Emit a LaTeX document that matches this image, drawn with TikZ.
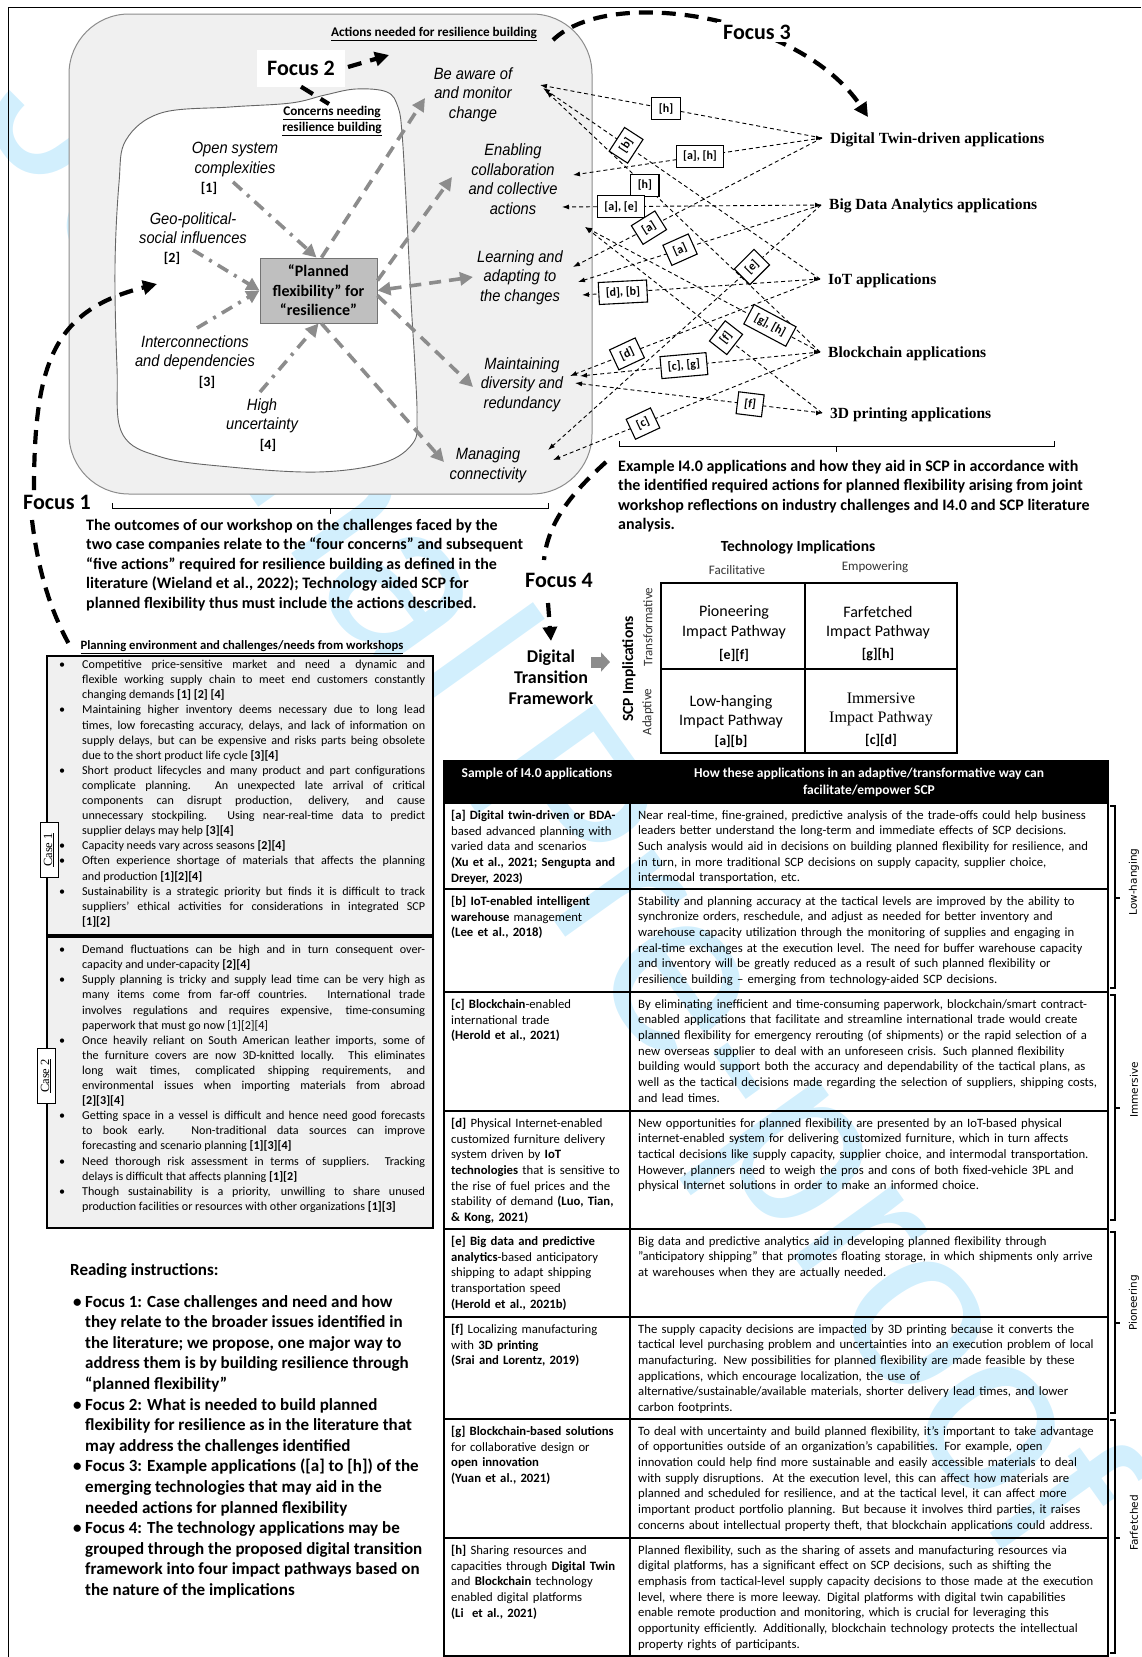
\documentclass[tikz,border=0pt]{standalone}
\usepackage{fontspec}
\setmainfont{Carlito}
\newfontfamily\lib{Liberation Sans}
\newfontfamily\libn{Liberation Sans}[FakeStretch=0.9]
\newfontfamily\tms{Liberation Serif}
\newfontfamily\dvs{DejaVu Sans}
\usetikzlibrary{arrows.meta,calc}
\newcommand{\fsz}[2]{\fontsize{#1}{#2}\selectfont}
\newlength\cw \setlength\cw{343pt}
\newcommand{\cBJ}[1]{\makebox[25pt][l]{\hspace{2pt}•}\makebox[\cw][s]{#1}}
\newcommand{\cBL}[1]{\makebox[25pt][l]{\hspace{2pt}•}\makebox[\cw][l]{#1}}
\newcommand{\cCJ}[1]{\makebox[25pt]{}\makebox[\cw][s]{#1}}
\newcommand{\cCL}[1]{\makebox[25pt]{}\makebox[\cw][l]{#1}}
\newcommand{\rB}{\makebox[12pt][l]{•}}
\newcommand{\rC}{\makebox[12pt]{}}
\definecolor{wmblue}{RGB}{210,239,253}
\definecolor{boxgray}{RGB}{240,240,240}
\definecolor{pfgray}{RGB}{191,191,191}
\definecolor{arrgray}{RGB}{140,140,140}
\tikzset{
  fdash/.style={line width=4.2pt, dash pattern=on 14pt off 9pt},
  ftip/.style={-{Triangle[length=14pt,width=14pt]}},
  gdash/.style={arrgray, line width=3.6pt, dash pattern=on 12pt off 8pt},
  gdot/.style={arrgray, line width=3.6pt, dash pattern=on 12pt off 7pt on 3pt off 7pt},
  gtip/.style={-{Triangle[length=13pt,width=13pt]}},
  gtips/.style={{Triangle[length=13pt,width=13pt]}-{Triangle[length=13pt,width=13pt]}},
  conn/.style={line width=0.9pt, dash pattern=on 4pt off 3pt, -{Latex[length=7pt,width=5pt]}},
  lbl/.style={draw, solid, line width=1.1pt, fill=white, font=\bfseries\fsz{12}{13}, inner xsep=7pt, inner ysep=2pt, minimum height=22pt},
  act/.style={font=\libn\itshape\fsz{16.3}{19.5}, align=center, inner sep=0pt},
  numl/.style={font=\bfseries\fsz{14}{16}, inner sep=0pt},
  tech/.style={font=\tms\bfseries\fsz{15.5}{17}, anchor=west, inner sep=0pt},
  focuslbl/.style={font=\bfseries\fsz{22}{24}, inner sep=3pt},
  ulhead/.style={font=\bfseries\fsz{13.2}{15.5}, align=center, inner sep=0pt},
  cellL/.style={anchor=north west, inner sep=0pt, align=left, text width=200pt, font=\fsz{12.7}{15.7}},
  cellR/.style={anchor=north west, inner sep=0pt, align=left, text width=480pt, font=\fsz{12.7}{15.7}},
  cellM/.style={font=\fsz{16}{19.5}, align=center, inner sep=0pt},
  brk/.style={line width=1.2pt},
  brklbl/.style={rotate=90, font=\dvs\fsz{10.5}{12}, inner sep=0pt},
  casebox/.style={draw, line width=1.2pt, fill=boxgray},
  caselbl/.style={draw, fill=white, line width=0.8pt, rotate=90, font=\tms\fsz{12.5}{14}, inner sep=2pt, minimum width=55pt, minimum height=18pt},
}
\begin{document}
\begin{tikzpicture}[x=1pt,y=-1pt]
\useasboundingbox (0,0) rectangle (1141,1657);
% watermark
\node[rotate=-54.5, text=wmblue, font=\lib\fsz{232}{232}, inner sep=0pt] (WM) at (545,805) {Journal Pre-proof};
% frame
\draw[line width=0.8pt] (8,1657) -- (8,7) -- (1141,7);

% ===== Focus 1/2 area =====
\draw[black!45, line width=1pt, fill=boxgray, rounded corners=60pt] (69,14) rectangle (592,494);
\draw[black!60, line width=0.9pt, fill=white] plot[smooth cycle, tension=0.6] coordinates {(126,140) (161,113) (230,107) (291,103) (325,95) (356,89) (387,92) (398,107) (402,133) (406,200) (411,300) (415,367) (417,417) (413,443) (383,463) (318,472) (230,467) (161,457) (122,433) (117,367) (115,267) (119,183)};

\node[ulhead] (ANH) at (434,34) {\underline{Actions needed for resilience building}};
\node[ulhead, align=center] (CNR) at (332,121) {\underline{Concerns needing}\\\underline{resilience building}};

\node[focuslbl, fill=white, minimum width=88pt, minimum height=37pt] (F2) at (301,68) {Focus 2};
\draw[fdash] (F2.south) -- (329,104);
\draw[fdash, ftip] (348,67) -- (389,55);

% concerns
\node[act] (C1) at (235,159.5) {Open system\\complexities};
\node[numl] (N1) at (209,188) {[1]};
\node[act] (C2) at (193,228) {Geo-political-\\social influences};
\node[numl] (N2) at (172,258) {[2]};
\node[act] (C3) at (195,353) {Interconnections\\and dependencies};
\node[numl] (N3) at (207,382) {[3]};
\node[act] (C4) at (262,416) {High\\uncertainty};
\node[numl] (N4) at (268,445) {[4]};

% center box
\node[draw=black!55, fill=pfgray, line width=1pt, minimum width=117pt, minimum height=65pt, font=\bfseries\fsz{16}{19.5}, align=center, inner sep=0pt] (PF) at (318.5,290.5) {“Planned\\flexibility” for\\“resilience”};

% actions
\node[act] (A1) at (473,94.5) {Be aware of\\and monitor\\change};
\node[act] (A2) at (513,179) {Enabling\\collaboration\\and collective\\actions};
\node[act] (A3) at (520,277.5) {Learning and\\adapting to\\the changes};
\node[act] (A4) at (522,384.5) {Maintaining\\diversity and\\redundancy};
\node[act] (A5) at (488,465.5) {Managing\\connectivity};

% concern arrows (dash-dot)
\coordinate (s1) at (233,182);
\coordinate (s2) at (193,250);
\coordinate (s3) at (197,328);
\coordinate (s4) at (260,392);
\draw[gdot, gtip] (s1) -- ([xshift=-2pt]PF.north);
\draw[gdot, gtip] (s2) -- (PF.west);
\draw[gdot, gtip] (s3) -- (PF.west);
\draw[gdot, gtip] (s4) -- (PF.south);

% action arrows (dashed)
\coordinate (ta) at (425,98);
\coordinate (tb) at (452,177);
\coordinate (tc) at (473,277);
\coordinate (td) at (473,387);
\coordinate (te) at (444,462);
\draw[gdash, gtip] ([xshift=3pt]PF.north) -- (ta);
\draw[gdash, gtip] ([yshift=10pt]PF.east) -- (tb);
\draw[gdash, gtips] (PF.east) -- (tc);
\draw[gdash, gtip] ([yshift=-5pt]PF.east) -- (td);
\draw[gdash, gtip] ([xshift=3pt]PF.south) -- (te);

% Focus 1
\node[focuslbl] (F1) at (57,502) {Focus 1};
\draw[fdash, ftip] (34,490) .. controls (34,360) and (55,310) .. (157,284);
\draw[fdash] (32,520) .. controls (38,570) and (50,610) .. (70,646);
\draw[line width=1pt] (112,503) -- (112,508) -- (548,508) -- (548,503);
\draw[line width=1pt] (330,508) -- (330,514);
\node[anchor=north west, inner sep=0pt, align=left, font=\bfseries\fsz{16}{19.5}] (F1T) at (86,519) {The outcomes of our workshop on the challenges faced by the\\two case companies relate to the “four concerns” and subsequent\\“five actions” required for resilience building as defined in the\\literature (Wieland et al., 2022); Technology aided SCP for\\planned flexibility thus must include the actions described.};

% Focus 3
\draw[fdash, ftip] (553,40) .. controls (610,-15) and (800,15) .. (868,117);
\node[focuslbl, fill=white, inner xsep=6pt] (F3) at (757,32) {Focus 3};

% technology apps
\coordinate (cDT) at (822,138);
\coordinate (cBD) at (821,205);
\coordinate (cIO) at (820,279);
\coordinate (cBC) at (820,352);
\coordinate (cTP) at (822,413);
\node[tech] (DT) at (830,140) {Digital Twin-driven applications};
\node[tech] (BD) at (829,206) {Big Data Analytics applications};
\node[tech] (IO) at (828,281) {IoT applications};
\node[tech] (BCn) at (828,354) {Blockchain applications};
\node[tech] (TP) at (830,415) {3D printing applications};
\foreach \c in {cDT,cBD,cIO,cBC,cTP}{
  \draw[line width=0.9pt, -{Latex[length=6pt,width=5pt]}] ([xshift=-6pt]\c) -- (\c);
}

\coordinate (aw1) at (540,85);
\coordinate (aw2) at (543,88);
\coordinate (aw3) at (546,91);
\coordinate (en1) at (573,175);
\coordinate (en2) at (562,207);
\coordinate (en3) at (585,227);
\coordinate (le1) at (573,267);
\coordinate (le2) at (578,282);
\coordinate (le3) at (582,295);
\coordinate (ma1) at (570,376);
\coordinate (ma2) at (580,376);
\coordinate (ma3) at (575,383);
\coordinate (mc1) at (548,450);
\coordinate (mc2) at (553,460);

\draw[conn] (cDT) -- node[lbl,pos=0.553]{[h]} (aw1);
\draw[conn] (cIO) -- node[lbl,pos=0.70,rotate=57]{[b]} (aw2);
\draw[conn] (cBC) -- node[lbl,pos=0.639]{[h]} (aw3);
\draw[conn] (cDT) -- node[lbl,pos=0.49]{[a], [h]} (en1);
\draw[conn] (cBD) -- node[lbl,pos=0.772]{[a], [e]} (en2);
\draw[conn] (cBC) -- node[lbl,pos=0.213,rotate=-28]{[g], [h]} (en3);
\draw[conn] (cTP) -- node[lbl,pos=0.405,rotate=52]{[f]} (en3);
\draw[conn] (cDT) -- node[lbl,pos=0.695,rotate=32]{[a]} (le1);
\draw[conn] (cBD) -- node[lbl,pos=0.58,rotate=24]{[a]} (le2);
\draw[conn] (cIO) -- node[lbl,pos=0.828,rotate=3]{[d], [b]} (le3);
\draw[conn] (cBD) -- node[lbl,pos=0.253,rotate=45]{[e]} (mc1);
\draw[conn] (cIO) -- node[lbl,pos=0.772,rotate=25]{[d]} (ma1);
\draw[conn] (cBC) -- node[lbl,pos=0.567,rotate=5]{[c], [g]} (ma2);
\draw[conn] (cTP) -- node[lbl,pos=0.291,rotate=-7]{[f]} (ma3);
\draw[conn] (cBC) -- node[lbl,pos=0.663,rotate=25]{[c]} (mc2);

% Example bracket + text
\draw[line width=1pt] (619,441) -- (619,446) -- (1054,446) -- (1054,441);
\draw[line width=1pt] (836,446) -- (836,452);
\node[anchor=north west, inner sep=0pt, align=left, font=\bfseries\fsz{16}{19.5}] (EXT) at (618,460) {Example I4.0 applications and how they aid in SCP in accordance with\\the identified required actions for planned flexibility arising from joint\\workshop reflections on industry challenges and I4.0 and SCP literature\\analysis.};

% Focus 4
\draw[fdash] (606,462) .. controls (575,490) and (548,520) .. (544,560);
\node[focuslbl] (F4) at (559,580) {Focus 4};
\draw[fdash, ftip] (548,603) -- (551,641);
\node[font=\bfseries\fsz{18}{21}, align=center, inner sep=0pt] (DTF) at (551,677) {Digital\\Transition\\Framework};
\draw[arrgray, line width=11pt, -{Triangle[length=9pt,width=19pt]}] (591,662) -- (610,662);

% matrix
\node[font=\bfseries\fsz{15.5}{17}, inner sep=0pt] (TI) at (798,547) {Technology Implications};
\node[font=\fsz{13}{15}, text=black!80, inner sep=0pt] (FAC) at (737,570) {Facilitative};
\node[font=\fsz{13}{15}, text=black!80, inner sep=0pt] (EMP) at (875,567) {Empowering};
\node[rotate=90, font=\bfseries\fsz{15.5}{17}, inner sep=0pt] (SCPI) at (629,669) {SCP Implications};
\node[rotate=90, font=\fsz{13}{15}, text=black!80, inner sep=0pt] (TRF) at (648,627) {Transformative};
\node[rotate=90, font=\fsz{13}{15}, text=black!80, inner sep=0pt] (ADP) at (648,712) {Adaptive};
\draw[line width=1.2pt] (661,583) rectangle (957,753);
\draw[line width=1.2pt] (805,583) -- (805,753);
\draw[line width=1.2pt] (661,669) -- (957,669);
\node[cellM] (M1) at (734,622.5) {Pioneering\\Impact Pathway};
\node[font=\bfseries\fsz{14}{16}, inner sep=0pt] (M1r) at (734,655) {[e][f]};
\node[cellM] (M2) at (878,622.5) {Farfetched\\Impact Pathway};
\node[font=\bfseries\fsz{14}{16}, inner sep=0pt] (M2r) at (878,655) {[g][h]};
\node[cellM] (M3) at (731,711.5) {Low-hanging\\Impact Pathway};
\node[font=\bfseries\fsz{14}{16}, inner sep=0pt] (M3r) at (731,741) {[a][b]};
\node[cellM, font=\tms\fsz{16}{19.5}] (M4) at (881,709.5) {Immersive\\Impact Pathway};
\node[font=\bfseries\fsz{14}{16}, inner sep=0pt] (M4r) at (881,740) {[c][d]};

% ===== Left: planning environment =====
\node[font=\bfseries\fsz{12.7}{14}, inner sep=0pt] (PEH) at (242,647) {\underline{Planning environment and challenges/needs from workshops}};
\draw[casebox] (47,656) rectangle (433,935);
\node[anchor=north west, inner sep=0pt, align=left, font=\fsz{12.1}{15.1}] (CS1) at (57,660) {%
\cBJ{Competitive price-sensitive market and need a dynamic and}\\
\cCJ{flexible working supply chain to meet end customers constantly}\\
\cCL{changing demands \textbf{[1] [2] [4]}}\\
\cBJ{Maintaining higher inventory deems necessary due to long lead}\\
\cCJ{times, low forecasting accuracy, delays, and lack of information on}\\
\cCJ{supply delays, but can be expensive and risks parts being obsolete}\\
\cCL{due to the short product life cycle \textbf{[3][4]}}\\
\cBJ{Short product lifecycles and many product and part configurations}\\
\cCJ{complicate planning. An unexpected late arrival of critical}\\
\cCJ{components can disrupt production, delivery, and cause}\\
\cCJ{unnecessary stockpiling. Using near-real-time data to predict}\\
\cCL{supplier delays may help \textbf{[3][4]}}\\
\cBL{Capacity needs vary across seasons \textbf{[2][4]}}\\
\cBJ{Often experience shortage of materials that affects the planning}\\
\cCL{and production \textbf{[1][2][4]}}\\
\cBJ{Sustainability is a strategic priority but finds it is difficult to track}\\
\cCJ{suppliers’ ethical activities for considerations in integrated SCP}\\
\cCL{\textbf{[1][2]}}};
\node[caselbl] (K1) at (49,850) {\underline{Case 1}};

\draw[casebox] (47,937) rectangle (433,1228);
\node[anchor=north west, inner sep=0pt, align=left, font=\fsz{12.1}{15.1}] (CS2) at (57,945) {%
\cBJ{Demand fluctuations can be high and in turn consequent over-}\\
\cCL{capacity and under-capacity \textbf{[2][4]}}\\
\cBJ{Supply planning is tricky and supply lead time can be very high as}\\
\cCJ{many items come from far-off countries. International trade}\\
\cCJ{involves regulations and requires expensive, time-consuming}\\
\cCL{paperwork that must go now [1][2][4]}\\
\cBJ{Once heavily reliant on South American leather imports, some of}\\
\cCJ{the furniture covers are now 3D-knitted locally. This eliminates}\\
\cCJ{long wait times, complicated shipping requirements, and}\\
\cCJ{environmental issues when importing materials from abroad}\\
\cCL{\textbf{[2][3][4]}}\\
\cBJ{Getting space in a vessel is difficult and hence need good forecasts}\\
\cCJ{to book early. Non-traditional data sources can improve}\\
\cCL{forecasting and scenario planning \textbf{[1][3][4]}}\\
\cBJ{Need thorough risk assessment in terms of suppliers. Tracking}\\
\cCL{delays is difficult that affects planning \textbf{[1][2]}}\\
\cBJ{Though sustainability is a priority, unwilling to share unused}\\
\cCL{production facilities or resources with other organizations \textbf{[1][3]}}};
\node[caselbl] (K2) at (46,1076) {\underline{Case 2}};

% reading instructions
\node[anchor=west, inner sep=0pt, font=\bfseries\fsz{17}{20}] (RI) at (70,1271) {Reading instructions:};
\node[anchor=north west, inner sep=0pt, align=left, font=\bfseries\fsz{17}{20.6}] (RIL) at (73,1295) {%
\rB Focus 1: Case challenges and need and how\\
\rC they relate to the broader issues identified in\\
\rC the literature; we propose, one major way to\\
\rC address them is by building resilience through\\
\rC “planned flexibility”\\
\rB Focus 2: What is needed to build planned\\
\rC flexibility for resilience as in the literature that\\
\rC may address the challenges identified\\
\rB Focus 3: Example applications ([a] to [h]) of the\\
\rC emerging technologies that may aid in the\\
\rC needed actions for planned flexibility\\
\rB Focus 4: The technology applications may be\\
\rC grouped through the proposed digital transition\\
\rC framework into four impact pathways based on\\
\rC the nature of the implications};

% ===== Table =====
\fill[black] (444,761) rectangle (1108,803);
\node[text=white, font=\bfseries\fsz{13.5}{17}, inner sep=0pt] (H1) at (537,774) {Sample of I4.0 applications};
\node[text=white, font=\bfseries\fsz{13.5}{17}, align=center, inner sep=0pt] (H2) at (869,782) {How these applications in an adaptive/transformative way can\\facilitate/empower SCP};
\draw[line width=1.2pt] (444,761) rectangle (1108,1656);
\draw[line width=1.2pt] (630,803) -- (630,1656);
\foreach \yy in {803,889,992,1111,1229,1317,1419,1538}{\draw[line width=1.2pt] (444,\yy) -- (1108,\yy);}

\node[cellL] (La) at (451,810) {\textbf{[a] Digital twin-driven or BDA-}\\based advanced planning with\\varied data and scenarios\\\textbf{(Xu et al., 2021; Sengupta and}\\\textbf{Dreyer, 2023)}};
\node[cellR] (Ra) at (638,810) {Near real-time, fine-grained, predictive analysis of the trade-offs could help business\\leaders better understand the long-term and immediate effects of SCP decisions.\\Such analysis would aid in decisions on building planned flexibility for resilience, and\\in turn, in more traditional SCP decisions on supply capacity, supplier choice,\\intermodal transportation, etc.};
\node[cellL] (Lb) at (451,896) {\textbf{[b] IoT-enabled intelligent}\\\textbf{warehouse} management\\\textbf{(Lee et al., 2018)}};
\node[cellR] (Rb) at (638,896) {Stability and planning accuracy at the tactical levels are improved by the ability to\\synchronize orders, reschedule, and adjust as needed for better inventory and\\warehouse capacity utilization through the monitoring of supplies and engaging in\\real-time exchanges at the execution level. The need for buffer warehouse capacity\\and inventory will be greatly reduced as a result of such planned flexibility or\\resilience building – emerging from technology-aided SCP decisions.};
\node[cellL] (Lc) at (451,999) {\textbf{[c] Blockchain}-enabled\\international trade\\\textbf{(Herold et al., 2021)}};
\node[cellR] (Rc) at (638,999) {By eliminating inefficient and time-consuming paperwork, blockchain/smart contract-\\enabled applications that facilitate and streamline international trade would create\\planned flexibility for emergency rerouting (of shipments) or the rapid selection of a\\new overseas supplier to deal with an unforeseen crisis. Such planned flexibility\\building would support both the accuracy and dependability of the tactical plans, as\\well as the tactical decisions made regarding the selection of suppliers, shipping costs,\\and lead times.};
\node[cellL] (Ld) at (451,1118) {\textbf{[d]} Physical Internet-enabled\\customized furniture delivery\\system driven by \textbf{IoT}\\\textbf{technologies} that is sensitive to\\the rise of fuel prices and the\\stability of demand \textbf{(Luo, Tian,}\\\textbf{\& Kong, 2021)}};
\node[cellR] (Rd) at (638,1118) {New opportunities for planned flexibility are presented by an IoT-based physical\\internet-enabled system for delivering customized furniture, which in turn affects\\tactical decisions like supply capacity, supplier choice, and intermodal transportation.\\However, planners need to weigh the pros and cons of both fixed-vehicle 3PL and\\physical Internet solutions in order to make an informed choice.};
\node[cellL] (Le) at (451,1236) {\textbf{[e] Big data and predictive}\\\textbf{analytics}-based anticipatory\\shipping to adapt shipping\\transportation speed\\\textbf{(Herold et al., 2021b)}};
\node[cellR] (Re) at (638,1236) {Big data and predictive analytics aid in developing planned flexibility through\\"anticipatory shipping" that promotes floating storage, in which shipments only arrive\\at warehouses when they are actually needed.};
\node[cellL] (Lf) at (451,1324) {\textbf{[f]} Localizing manufacturing\\with \textbf{3D printing}\\\textbf{(Srai and Lorentz, 2019)}};
\node[cellR] (Rf) at (638,1324) {The supply capacity decisions are impacted by 3D printing because it converts the\\tactical level purchasing problem and uncertainties into an execution problem of local\\manufacturing. New possibilities for planned flexibility are made feasible by these\\applications, which encourage localization, the use of\\alternative/sustainable/available materials, shorter delivery lead times, and lower\\carbon footprints.};
\node[cellL] (Lg) at (451,1426) {\textbf{[g] Blockchain-based solutions}\\for collaborative design or\\\textbf{open innovation}\\\textbf{(Yuan et al., 2021)}};
\node[cellR] (Rg) at (638,1426) {To deal with uncertainty and build planned flexibility, it's important to take advantage\\of opportunities outside of an organization's capabilities. For example, open\\innovation could help find more sustainable and easily accessible materials to deal\\with supply disruptions.\ \ At the execution level, this can affect how materials are\\planned and scheduled for resilience, and at the tactical level, it can affect more\\important product portfolio planning. But because it involves third parties, it raises\\concerns about intellectual property theft, that blockchain applications could address.};
\node[cellL] (Lh) at (451,1545) {\textbf{[h]} Sharing resources and\\capacities through \textbf{Digital Twin}\\and \textbf{Blockchain} technology\\enabled digital platforms\\\textbf{(Li\ \ et al., 2021)}};
\node[cellR] (Rh) at (638,1545) {Planned flexibility, such as the sharing of assets and manufacturing resources via\\digital platforms, has a significant effect on SCP decisions, such as shifting the\\emphasis from tactical-level supply capacity decisions to those made at the execution\\level, where there is more leeway. Digital platforms with digital twin capabilities\\enable remote production and monitoring, which is crucial for leveraging this\\opportunity efficiently. Additionally, blockchain technology protects the intellectual\\property rights of participants.};

% right brackets
\draw[brk] (1110,806) -- (1115,806) -- (1115,988) -- (1110,988);
\draw[brk] (1115,898) -- (1120,898);
\node[brklbl] (BLH) at (1134,882) {Low-hanging};
\draw[brk] (1110,995) -- (1115,995) -- (1115,1220) -- (1110,1220);
\draw[brk] (1115,1108) -- (1120,1108);
\node[brklbl] (BIM) at (1134,1090) {Immersive};
\draw[brk] (1110,1232) -- (1115,1232) -- (1115,1413) -- (1110,1413);
\draw[brk] (1115,1323) -- (1120,1323);
\node[brklbl] (BPI) at (1134,1303) {Pioneering};
\draw[brk] (1110,1420) -- (1115,1420) -- (1115,1653) -- (1110,1653);
\draw[brk] (1115,1538) -- (1120,1538);
\node[brklbl] (BFF) at (1134,1523) {Farfetched};
\end{tikzpicture}
\end{document}
